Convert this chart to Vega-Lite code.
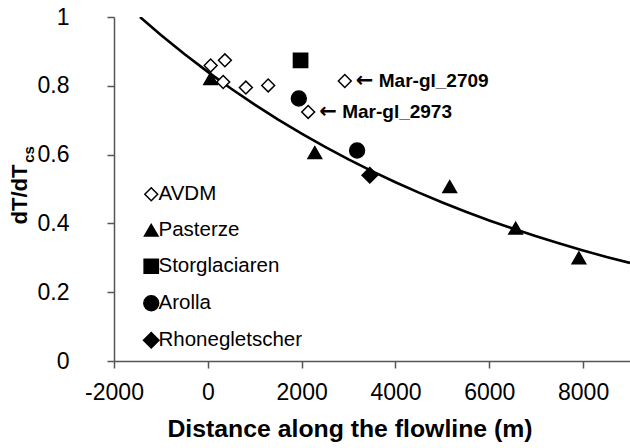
{
  "$schema": "https://vega.github.io/schema/vega-lite/v6.json",
  "width": 516,
  "height": 344,
  "autosize": {"type": "none"},
  "padding": {"left": 114, "top": 17, "right": 0, "bottom": 87},
  "background": "white",
  "config": {"view": {"stroke": null}, "font": "Liberation Sans"},
  "datasets": {
    "curve": [
      {"x": -1446, "y": 1.0}, {"x": -1000, "y": 0.9478}, {"x": -500, "y": 0.8925},
      {"x": 0, "y": 0.8405}, {"x": 500, "y": 0.7915}, {"x": 1000, "y": 0.7453},
      {"x": 1500, "y": 0.7019}, {"x": 2000, "y": 0.6609}, {"x": 2500, "y": 0.6224},
      {"x": 3000, "y": 0.5861}, {"x": 3500, "y": 0.5519}, {"x": 4000, "y": 0.5197},
      {"x": 4500, "y": 0.4894}, {"x": 5000, "y": 0.4609}, {"x": 5500, "y": 0.434},
      {"x": 6000, "y": 0.4087}, {"x": 6500, "y": 0.3849}, {"x": 7000, "y": 0.3624},
      {"x": 7500, "y": 0.3413}, {"x": 8000, "y": 0.3214}, {"x": 8500, "y": 0.3026},
      {"x": 9000, "y": 0.285}
    ],
    "points": [
      {"series": "AVDM", "x": 60, "y": 0.859},
      {"series": "AVDM", "x": 364, "y": 0.874},
      {"series": "AVDM", "x": 328, "y": 0.811},
      {"series": "AVDM", "x": 811, "y": 0.795},
      {"series": "AVDM", "x": 1287, "y": 0.801},
      {"series": "AVDM", "x": 2139, "y": 0.724},
      {"series": "AVDM", "x": 2920, "y": 0.814},
      {"series": "Pasterze", "x": 60, "y": 0.821},
      {"series": "Pasterze", "x": 2281, "y": 0.606},
      {"series": "Pasterze", "x": 5157, "y": 0.507},
      {"series": "Pasterze", "x": 6562, "y": 0.386},
      {"series": "Pasterze", "x": 7911, "y": 0.3},
      {"series": "Storglaciaren", "x": 1977, "y": 0.874},
      {"series": "Arolla", "x": 1940, "y": 0.763},
      {"series": "Arolla", "x": 3182, "y": 0.612},
      {"series": "Rhonegletscher", "x": 3453, "y": 0.54}
    ],
    "labels": [
      {"x": 2920, "y": 0.814, "label": "Mar-gl_2709"},
      {"x": 2139, "y": 0.724, "label": "Mar-gl_2973"}
    ]
  },
  "layer": [
    {
      "data": {"name": "curve"},
      "mark": {"type": "line", "color": "black", "strokeWidth": 2.6, "clip": true},
      "encoding": {
        "x": {
          "field": "x", "type": "quantitative",
          "scale": {"domain": [-2000, 9000], "nice": false, "zero": false},
          "axis": {
            "values": [-2000, 0, 2000, 4000, 6000, 8000],
            "labelExpr": "datum.value < 0 ? '-' + abs(datum.value) : '' + datum.value",
            "title": "Distance along the flowline (m)",
            "titleFontSize": 24.8, "titleFontWeight": "bold", "titleColor": "black",
            "titleX": 235.5, "titleY": 75.5, "titleBaseline": "alphabetic", "titleAlign": "center",
            "labelFontSize": 23, "labelColor": "black", "labelPadding": 13,
            "labelFlush": false, "labelOverlap": false,
            "tickSize": 7, "tickColor": "#555555", "tickWidth": 1.5,
            "domainColor": "#555555", "domainWidth": 1.5, "grid": false
          }
        },
        "y": {
          "field": "y", "type": "quantitative",
          "scale": {"domain": [0, 1], "nice": false},
          "axis": {
            "values": [0, 0.2, 0.4, 0.6, 0.8, 1],
            "format": ".1~f",
            "title": "dT/dT",
            "titleFontSize": 22, "titleFontWeight": "bold", "titleColor": "black",
            "titleX": -87.3, "titleY": 177, "titleAngle": 270,
            "titleAlign": "center", "titleBaseline": "alphabetic",
            "labelFontSize": 23, "labelColor": "black", "labelPadding": 38,
            "labelAlign": "right", "labelBaseline": "middle",
            "labelFlush": false, "labelOverlap": false,
            "tickSize": 7, "tickColor": "#555555", "tickWidth": 1.5,
            "domainColor": "#555555", "domainWidth": 1.5, "grid": false
          }
        }
      }
    },
    {
      "mark": {"type": "rule", "color": "#555555", "strokeWidth": 1.5},
      "encoding": {
        "y": {
          "datum": 1, "type": "quantitative",
          "axis": {
            "orient": "left", "title": "cs", "labels": false, "ticks": false,
            "domain": false, "grid": false, "values": [],
            "titleFontSize": 15, "titleFontWeight": "bold", "titleColor": "black",
            "titleX": -80.7, "titleY": 137, "titleAngle": 270,
            "titleAlign": "center", "titleBaseline": "alphabetic"
          }
        }
      }
    },
    {
      "data": {"name": "points"},
      "mark": {"type": "point", "stroke": "black", "strokeWidth": 1.5, "opacity": 1, "fillOpacity": 1},
      "encoding": {
        "x": {"field": "x", "type": "quantitative"},
        "y": {"field": "y", "type": "quantitative", "axis": null},
        "shape": {
          "field": "series", "type": "nominal",
          "scale": {
            "domain": ["AVDM", "Pasterze", "Storglaciaren", "Arolla", "Rhonegletscher"],
            "range": ["diamond", "triangle-up", "square", "circle", "diamond"]
          },
          "legend": {
            "orient": "none", "legendX": 27, "legendY": 167, "title": null,
            "labelFontSize": 20.5, "labelColor": "black", "rowPadding": 15,
            "labelOffset": -3, "padding": 0,
            "encode": {"symbols": {"update": {"stroke": {"value": "black"}, "strokeWidth": {"value": 1.5}}}}
          }
        },
        "fill": {
          "field": "series", "type": "nominal",
          "scale": {
            "domain": ["AVDM", "Pasterze", "Storglaciaren", "Arolla", "Rhonegletscher"],
            "range": ["white", "black", "black", "black", "black"]
          },
          "legend": {
            "orient": "none", "legendX": 27, "legendY": 167, "title": null,
            "labelFontSize": 20.5, "labelColor": "black", "rowPadding": 15,
            "labelOffset": -3, "padding": 0,
            "encode": {"symbols": {"update": {"stroke": {"value": "black"}, "strokeWidth": {"value": 1.5}}}}
          }
        },
        "size": {
          "field": "series", "type": "nominal",
          "scale": {
            "domain": ["AVDM", "Pasterze", "Storglaciaren", "Arolla", "Rhonegletscher"],
            "range": [165, 240, 130, 125, 200]
          },
          "legend": {
            "orient": "none", "legendX": 27, "legendY": 167, "title": null,
            "labelFontSize": 20.5, "labelColor": "black", "rowPadding": 15,
            "labelOffset": -3, "padding": 0,
            "encode": {"symbols": {"update": {"stroke": {"value": "black"}, "strokeWidth": {"value": 1.5}}}}
          }
        }
      }
    },
    {
      "data": {"name": "labels"},
      "mark": {"type": "text", "text": "←", "font": "DejaVu Sans", "fontWeight": "bold", "fontSize": 21, "align": "left", "baseline": "middle", "dx": 11, "color": "black"},
      "encoding": {
        "x": {"field": "x", "type": "quantitative"},
        "y": {"field": "y", "type": "quantitative", "axis": null}
      }
    },
    {
      "data": {"name": "labels"},
      "mark": {"type": "text", "fontWeight": "bold", "fontSize": 19, "align": "left", "baseline": "middle", "dx": 34, "color": "black"},
      "encoding": {
        "x": {"field": "x", "type": "quantitative"},
        "y": {"field": "y", "type": "quantitative", "axis": null},
        "text": {"field": "label"}
      }
    }
  ],
  "resolve": {"axis": {"y": "independent"}}
}
